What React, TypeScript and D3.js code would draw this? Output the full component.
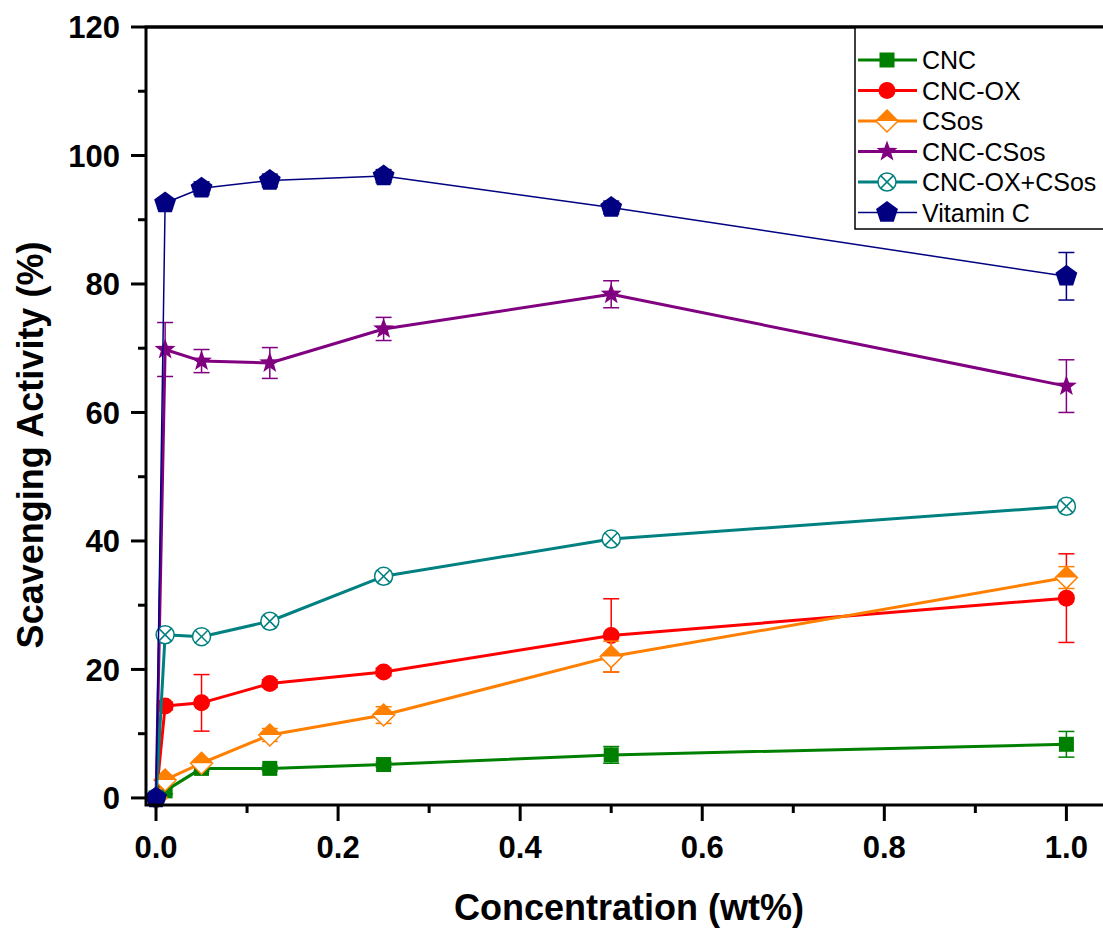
import React from "react";
import * as d3 from "d3";

// Concentrations (wt%)
const concentrations = [0, 0.01, 0.05, 0.125, 0.25, 0.5, 1.0];

// Scavenging activity (%) and standard deviations per sample
const cncValues = [0, 1.1, 4.6, 4.6, 5.2, 6.7, 8.35];
const cncErrors = [0, 0.5, 0.4, 0.4, 0.4, 1.3, 2.0];
const cncOxValues = [0, 14.3, 14.8, 17.8, 19.6, 25.3, 31.1];
const cncOxErrors = [0, 0.6, 4.4, 0.6, 0.6, 5.7, 6.9];
const csosValues = [0, 2.8, 5.4, 9.8, 12.9, 22.0, 34.3];
const csosErrors = [0, 0.6, 0.6, 1.0, 1.3, 2.4, 1.7];
const cncCsosValues = [0, 69.8, 68.0, 67.7, 73.0, 78.4, 64.1];
const cncCsosErrors = [0, 4.2, 1.8, 2.4, 1.8, 2.1, 4.1];
const cncOxCsosValues = [0, 25.4, 25.1, 27.5, 34.5, 40.3, 45.4];
const cncOxCsosErrors = [0, 0.5, 0.5, 0.6, 0.8, 0.6, 0.6];
const vitaminCValues = [0, 92.6, 94.9, 96.1, 96.8, 91.9, 81.2];
const vitaminCErrors = [0, 0.8, 1.0, 1.0, 1.0, 1.0, 3.7];

const xTickValues = [0, 0.2, 0.4, 0.6, 0.8, 1.0];
const xMinorTicks = [0.1, 0.3, 0.5, 0.7, 0.9];
const yTickValues = [0, 20, 40, 60, 80, 100, 120];
const yMinorTicks = [10, 30, 50, 70, 90, 110];

type MarkerKind = "square" | "circle" | "diamondHalf" | "star" | "circleX" | "pentagon";

interface Series {
  name: string;
  values: number[];
  errors: number[];
  color: string;
  width: number;
  marker: MarkerKind;
}

const series: Series[] = [
  { name: "CNC", values: cncValues, errors: cncErrors, color: "#008000", width: 3, marker: "square" },
  { name: "CNC-OX", values: cncOxValues, errors: cncOxErrors, color: "#FF0000", width: 3, marker: "circle" },
  { name: "CSos", values: csosValues, errors: csosErrors, color: "#FF8000", width: 3, marker: "diamondHalf" },
  { name: "CNC-CSos", values: cncCsosValues, errors: cncCsosErrors, color: "#800080", width: 3, marker: "star" },
  { name: "CNC-OX+CSos", values: cncOxCsosValues, errors: cncOxCsosErrors, color: "#008080", width: 3, marker: "circleX" },
  { name: "Vitamin C", values: vitaminCValues, errors: vitaminCErrors, color: "#000080", width: 1.5, marker: "pentagon" },
];

const W = 1103;
const H = 928;
const x = d3.scaleLinear().domain([-0.011, 1.0435]).range([146, 1106]);
const y = d3.scaleLinear().domain([-1.1, 120]).range([805, 27]);

function starPath(cx: number, cy: number, ro: number, ri: number) {
  const pts: [number, number][] = [];
  for (let i = 0; i < 10; i++) {
    const r = i % 2 === 0 ? ro : ri;
    const a = -Math.PI / 2 + (i * Math.PI) / 5;
    pts.push([cx + r * Math.cos(a), cy + r * Math.sin(a)]);
  }
  return "M" + pts.map((p) => p.join(",")).join("L") + "Z";
}

function pentagonPath(cx: number, cy: number, r: number) {
  const pts: [number, number][] = [];
  for (let i = 0; i < 5; i++) {
    const a = -Math.PI / 2 + (i * 2 * Math.PI) / 5;
    pts.push([cx + r * Math.cos(a), cy + r * Math.sin(a)]);
  }
  return "M" + pts.map((p) => p.join(",")).join("L") + "Z";
}

function Marker({ kind, cx, cy, color }: { kind: MarkerKind; cx: number; cy: number; color: string }) {
  switch (kind) {
    case "square":
      return <rect x={cx - 7.5} y={cy - 7.5} width={15} height={15} fill={color} />;
    case "circle":
      return <circle cx={cx} cy={cy} r={8.5} fill={color} />;
    case "diamondHalf": {
      const s = 11;
      return (
        <g>
          <path
            d={`M${cx},${cy - s}L${cx + s},${cy}L${cx},${cy + s}L${cx - s},${cy}Z`}
            fill="#fff"
            stroke={color}
            strokeWidth={1.5}
          />
          <path d={`M${cx},${cy - s}L${cx + s},${cy}L${cx - s},${cy}Z`} fill={color} />
        </g>
      );
    }
    case "star":
      return <path d={starPath(cx, cy, 11, 4.5)} fill={color} />;
    case "circleX": {
      const r = 9;
      const k = r * Math.SQRT1_2;
      return (
        <g stroke={color} strokeWidth={1.5}>
          <circle cx={cx} cy={cy} r={r} fill="#fff" />
          <line x1={cx - k} y1={cy - k} x2={cx + k} y2={cy + k} />
          <line x1={cx - k} y1={cy + k} x2={cx + k} y2={cy - k} />
        </g>
      );
    }
    case "pentagon":
      return <path d={pentagonPath(cx, cy, 11.5)} fill={color} />;
  }
}

export default function App() {
  const line = d3
    .line<number>()
    .x((_, i) => x(concentrations[i]))
    .y((d) => y(d));

  const legendX = 855;
  const legendRows = series.map((s, i) => ({ s, cy: 60 + i * 30.5 }));

  return (
    <svg
      width={W}
      height={H}
      style={{ position: "absolute", left: 0, top: 0, background: "#fff" }}
      fontFamily="'Liberation Sans', Arial, sans-serif"
    >
      <rect x={0} y={0} width={W} height={H} fill="#fff" />

      {/* series lines, error bars and markers */}
      {series.map((s) => (
        <g key={s.name}>
          <path d={line(s.values) ?? ""} fill="none" stroke={s.color} strokeWidth={s.width} strokeLinejoin="round" />
          {s.values.map((v, i) =>
            s.errors[i] > 0 ? (
              <g key={i} stroke={s.color} strokeWidth={1.5}>
                <line x1={x(concentrations[i])} x2={x(concentrations[i])} y1={y(v + s.errors[i])} y2={y(v - s.errors[i])} />
                <line x1={x(concentrations[i]) - 8} x2={x(concentrations[i]) + 8} y1={y(v + s.errors[i])} y2={y(v + s.errors[i])} />
                <line x1={x(concentrations[i]) - 8} x2={x(concentrations[i]) + 8} y1={y(v - s.errors[i])} y2={y(v - s.errors[i])} />
              </g>
            ) : null
          )}
          {s.values.map((v, i) => (
            <Marker key={"m" + i} kind={s.marker} cx={x(concentrations[i])} cy={y(v)} color={s.color} />
          ))}
        </g>
      ))}

      {/* frame */}
      <rect x={146} y={27} width={960} height={778} fill="none" stroke="#000" strokeWidth={3} />

      {/* y axis ticks */}
      {yTickValues.map((t) => (
        <g key={"y" + t}>
          <line x1={131} x2={146} y1={y(t)} y2={y(t)} stroke="#000" strokeWidth={3} />
          <text x={120} y={y(t)} dy="0.36em" textAnchor="end" fontSize={31} fontWeight="bold">
            {t}
          </text>
        </g>
      ))}
      {yMinorTicks.map((t) => (
        <line key={"ym" + t} x1={138} x2={146} y1={y(t)} y2={y(t)} stroke="#000" strokeWidth={3} />
      ))}

      {/* x axis ticks */}
      {xTickValues.map((t) => (
        <g key={"x" + t}>
          <line x1={x(t)} x2={x(t)} y1={805} y2={821} stroke="#000" strokeWidth={3} />
          <text x={x(t)} y={858} textAnchor="middle" fontSize={31} fontWeight="bold">
            {d3.format(".1f")(t)}
          </text>
        </g>
      ))}
      {xMinorTicks.map((t) => (
        <line key={"xm" + t} x1={x(t)} x2={x(t)} y1={805} y2={813} stroke="#000" strokeWidth={3} />
      ))}

      {/* axis titles */}
      <text x={629} y={920} textAnchor="middle" fontSize={36} fontWeight="bold">
        Concentration (wt%)
      </text>
      <text transform="translate(43,445) rotate(-90)" textAnchor="middle" fontSize={36} fontWeight="bold">
        Scavenging Activity (%)
      </text>

      {/* legend */}
      <rect x={legendX} y={27} width={W - legendX + 10} height={202} fill="#fff" stroke="#000" strokeWidth={1.5} />
      {legendRows.map(({ s, cy }) => (
        <g key={"lg" + s.name}>
          <line x1={858} x2={917} y1={cy} y2={cy} stroke={s.color} strokeWidth={s.width} />
          <Marker kind={s.marker} cx={887} cy={cy} color={s.color} />
          <text x={922} y={cy} dy="0.36em" fontSize={25}>
            {s.name}
          </text>
        </g>
      ))}
      <line x1={146} x2={W} y1={27} y2={27} stroke="#000" strokeWidth={3} />
    </svg>
  );
}
